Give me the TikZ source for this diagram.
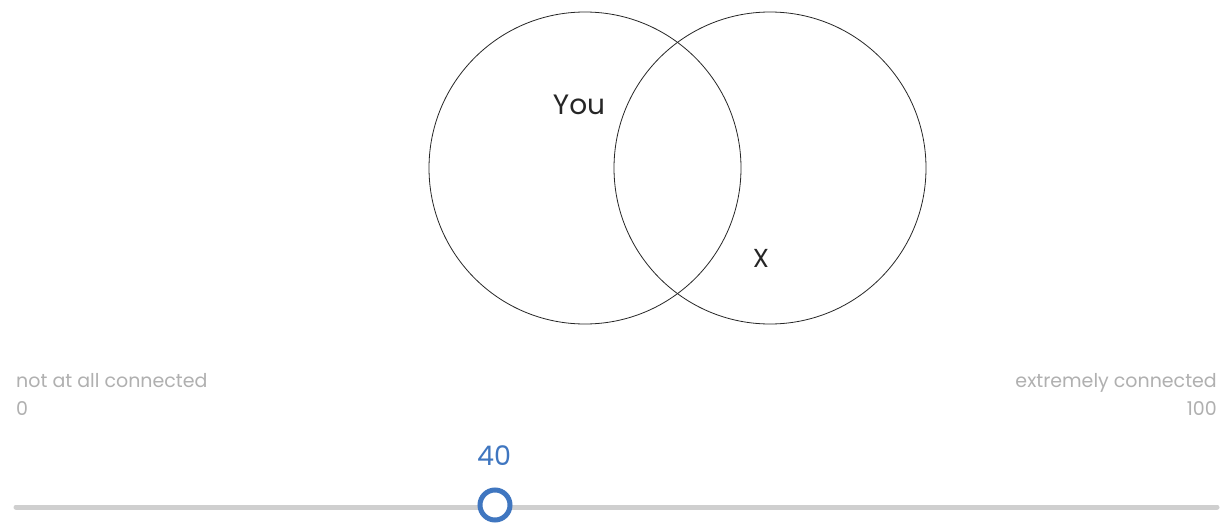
\documentclass[tikz,border=0pt]{standalone}
\usepackage{fontspec}
\setmainfont{Poppins}
\definecolor{lbl}{HTML}{B0B0B0}
\definecolor{knobblue}{HTML}{3F76C0}
\definecolor{trackgray}{HTML}{CFCFCF}
\begin{document}
\begin{tikzpicture}[x=1pt,y=-1pt,
  venn/.style={draw=black!85, line width=0.8pt},
  scalelbl/.style={text=lbl, font=\fontsize{19}{21}\selectfont, inner sep=0pt},
  vlabel/.style={text=black!85, inner sep=0pt, anchor=base}]
\useasboundingbox[fill=white] (0,0) rectangle (1223,525);
\node[venn, circle, minimum size=312pt, inner sep=0pt] (left) at (585,168) {};
\node[venn, circle, minimum size=312pt, inner sep=0pt] (right) at (770,168) {};
\node[vlabel, font=\fontsize{28}{30}\selectfont] (you) at (579,114) {You};
\node[vlabel, font=\fontsize{26}{28}\selectfont] (x) at (761,267) {X};
\node[scalelbl, anchor=base west] (notat) at (16,387) {not at all connected};
\node[scalelbl, anchor=base west] (zero) at (16,415) {0};
\node[scalelbl, anchor=base east] (ext) at (1217,387) {extremely connected};
\node[scalelbl, anchor=base east] (hundred) at (1217,415) {100};
\coordinate (tl) at (16,507);
\coordinate (tr) at (1217,507);
\draw[trackgray, line width=5pt, line cap=round] (tl) -- (tr);
\node[circle, draw=knobblue, fill=white, line width=5pt, minimum size=30pt, inner sep=0pt] (knob) at (495,505) {};
\node[text=knobblue, font=\fontsize{27}{29}\selectfont, inner sep=0pt, anchor=base] (val) at (494,465) {40};
\end{tikzpicture}
\end{document}
